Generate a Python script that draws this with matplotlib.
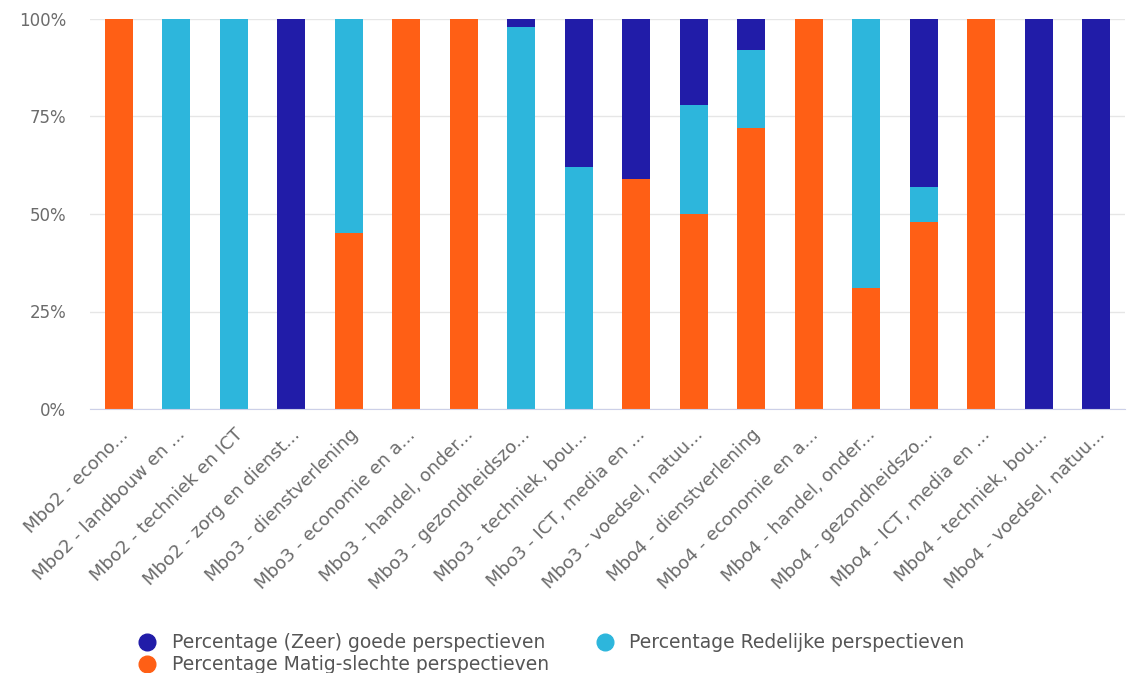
import matplotlib
matplotlib.use("Agg")
import matplotlib.pyplot as plt
from matplotlib.lines import Line2D
import numpy as np

categories = [
    "Mbo2 - econo...", "Mbo2 - landbouw en ...", "Mbo2 - techniek en ICT",
    "Mbo2 - zorg en dienst...", "Mbo3 - dienstverlening", "Mbo3 - economie en a...",
    "Mbo3 - handel, onder...", "Mbo3 - gezondheidszo...", "Mbo3 - techniek, bou...",
    "Mbo3 - ICT, media en ...", "Mbo3 - voedsel, natuu...", "Mbo4 - dienstverlening",
    "Mbo4 - economie en a...", "Mbo4 - handel, onder...", "Mbo4 - gezondheidszo...",
    "Mbo4 - ICT, media en ...", "Mbo4 - techniek, bou...", "Mbo4 - voedsel, natuu...",
]
matig = [100, 0, 0, 0, 45, 100, 100, 0, 0, 59, 50, 72, 100, 31, 48, 100, 0, 0]
redelijk = [0, 100, 100, 0, 55, 0, 0, 98, 62, 0, 28, 20, 0, 69, 9, 0, 0, 0]
goed = [0, 0, 0, 100, 0, 0, 0, 2, 38, 41, 22, 8, 0, 0, 43, 0, 100, 100]
series_names = ["Percentage (Zeer) goede perspectieven",
                "Percentage Redelijke perspectieven",
                "Percentage Matig-slechte perspectieven"]
yticks = [0, 25, 50, 75, 100]

c_goed = "#211CA8"
c_red = "#2DB6DC"
c_matig = "#FF5F15"
text_col = "#6b6b6b"

plt.rcParams['font.family'] = ['DejaVu Sans']

fig = plt.figure(figsize=(11.28, 6.73), dpi=100)
ax = fig.add_axes([90/1128, (673-409)/673, (1125-90)/1128, 390/673])

x = np.arange(len(categories))
m = np.array(matig); r = np.array(redelijk); g = np.array(goed)
w = 0.48
ax.bar(x, m, w, color=c_matig, zorder=3)
ax.bar(x, r, w, bottom=m, color=c_red, zorder=3)
ax.bar(x, g, w, bottom=m + r, color=c_goed, zorder=3)

ax.set_xlim(-0.5, len(categories) - 0.5)
ax.set_ylim(0, 100)
ax.set_yticks(yticks)
ax.set_yticklabels([f"{v}%" for v in yticks], color=text_col, fontsize=12)
ax.yaxis.grid(True, color="#e6e6e6", linewidth=1, zorder=0)
ax.tick_params(axis='y', length=0, pad=17)
ax.tick_params(axis='x', length=0, pad=12)
ax.set_xticks(x)
ax.set_xticklabels(categories, rotation=45, ha='right', rotation_mode='anchor',
                   color=text_col, fontsize=13)
for s in ['top', 'right', 'left']:
    ax.spines[s].set_visible(False)
ax.spines['bottom'].set_color("#ccd0e8")
ax.spines['bottom'].set_zorder(4)

handles = [Line2D([], [], marker='o', linestyle='none', markersize=12, color=c)
           for c in (c_goed, c_matig, c_red)]
labels = [series_names[0], series_names[2], series_names[1]]
fig.legend(handles, labels, loc='upper left', bbox_to_anchor=(119/1128, 1 - 624/673),
           ncol=2, frameon=False, labelcolor="#555555",
           handletextpad=0.3, columnspacing=2.0, labelspacing=0.15, borderpad=0,
           prop={'family': 'DejaVu Sans', 'size': 13.5})

fig.savefig("out.png", dpi=100, facecolor="white")
